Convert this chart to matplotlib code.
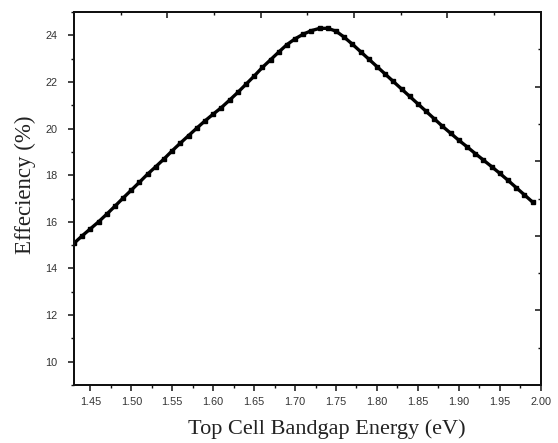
import numpy as np
import matplotlib
matplotlib.use("Agg")
import matplotlib.pyplot as plt
from matplotlib.ticker import MultipleLocator, FixedLocator, NullFormatter

# top cell bandgap (eV) and efficiency (%)
bandgap = [1.43, 1.44, 1.45, 1.46, 1.47, 1.48, 1.49, 1.50, 1.51, 1.52,
           1.53, 1.54, 1.55, 1.56, 1.57, 1.58, 1.59, 1.60, 1.61, 1.62,
           1.63, 1.64, 1.65, 1.66, 1.67, 1.68, 1.69, 1.70, 1.71, 1.72,
           1.73, 1.74, 1.75, 1.76, 1.77, 1.78, 1.79, 1.80, 1.81, 1.82,
           1.83, 1.84, 1.85, 1.86, 1.87, 1.88, 1.89, 1.90, 1.91, 1.92,
           1.93, 1.94, 1.95, 1.96, 1.97, 1.98, 1.99]
efficiency = [15.08, 15.40, 15.70, 16.00, 16.33, 16.67, 17.02, 17.36, 17.70, 18.05,
              18.37, 18.70, 19.05, 19.38, 19.70, 20.02, 20.33, 20.62, 20.90, 21.22,
              21.55, 21.90, 22.25, 22.62, 22.95, 23.28, 23.60, 23.85, 24.05, 24.20,
              24.30, 24.30, 24.18, 23.92, 23.62, 23.30, 22.98, 22.66, 22.34, 22.02,
              21.70, 21.38, 21.06, 20.74, 20.42, 20.10, 19.80, 19.50, 19.22, 18.93,
              18.65, 18.37, 18.08, 17.78, 17.47, 17.16, 16.85]

x_ticks = [1.45, 1.50, 1.55, 1.60, 1.65, 1.70, 1.75, 1.80, 1.85, 1.90, 1.95, 2.00]
y_ticks = [10, 12, 14, 16, 18, 20, 22, 24]

TICK_FONT = ["Liberation Sans", "DejaVu Sans"]
LABEL_FONT = ["Liberation Serif", "DejaVu Serif"]
INK = "#111111"

fig = plt.figure(figsize=(5.58, 4.43), dpi=100)
ax = fig.add_axes([0.1326, 0.1309, 0.8364, 0.8420])

ax.plot(bandgap, efficiency, color="black", lw=2.4, marker="s", ms=3.0,
        mec="black", mfc="black")

ax.set_xlim(1.43, 2.00)
ax.set_ylim(9, 25)
ax.xaxis.set_major_locator(FixedLocator(x_ticks))
ax.xaxis.set_minor_locator(MultipleLocator(0.025))
ax.yaxis.set_major_locator(FixedLocator(y_ticks))
ax.yaxis.set_minor_locator(MultipleLocator(1))
ax.set_xticklabels([f"{v:.2f}" for v in x_ticks])
ax.set_yticklabels([str(v) for v in y_ticks])

ax.tick_params(which="major", direction="out", length=4.2, width=1.1, colors=INK,
               labelsize=7.8)
ax.tick_params(which="minor", direction="out", length=2.3, width=1.0, colors=INK)
ax.tick_params(axis="x", which="major", pad=4.5)
ax.tick_params(axis="y", which="major", pad=8)
for lbl in ax.get_xticklabels() + ax.get_yticklabels():
    lbl.set_family(TICK_FONT)
    lbl.set_color("#333333")
for sp in ax.spines.values():
    sp.set_linewidth(1.4)
    sp.set_color(INK)

# Origin-style mirrored axes: own even divisions, ticks inward, no labels
top = ax.twiny()
top.set_xlim(0, 1)
top.xaxis.set_major_locator(FixedLocator(np.linspace(0, 1, 6)))
top.xaxis.set_minor_locator(FixedLocator(np.linspace(0, 1, 11)))
top.xaxis.set_major_formatter(NullFormatter())
top.tick_params(axis="x", which="major", direction="in", length=4.2, width=1.1, colors=INK)
top.tick_params(axis="x", which="minor", direction="in", length=2.3, width=1.0, colors=INK)

right = ax.twinx()
right.set_ylim(0, 1)
right.yaxis.set_major_locator(FixedLocator(np.linspace(0, 1, 6)))
right.yaxis.set_minor_locator(FixedLocator(np.linspace(0, 1, 11)))
right.yaxis.set_major_formatter(NullFormatter())
right.tick_params(axis="y", which="major", direction="in", length=4.2, width=1.1, colors=INK)
right.tick_params(axis="y", which="minor", direction="in", length=2.3, width=1.0, colors=INK)
for a in (top, right):
    for sp in a.spines.values():
        sp.set_linewidth(1.4)
        sp.set_color(INK)

ax.set_xlabel("Top Cell Bandgap Energy (eV)", family=LABEL_FONT, fontsize=16,
              color="#222222")
ax.xaxis.set_label_coords(0.5415, -0.092)
ax.set_ylabel("Effeciency (%)", family=LABEL_FONT, fontsize=16.5, color="#222222")
ax.yaxis.set_label_coords(-0.082, 0.536)

fig.savefig("out.png", dpi=100, facecolor="white")
